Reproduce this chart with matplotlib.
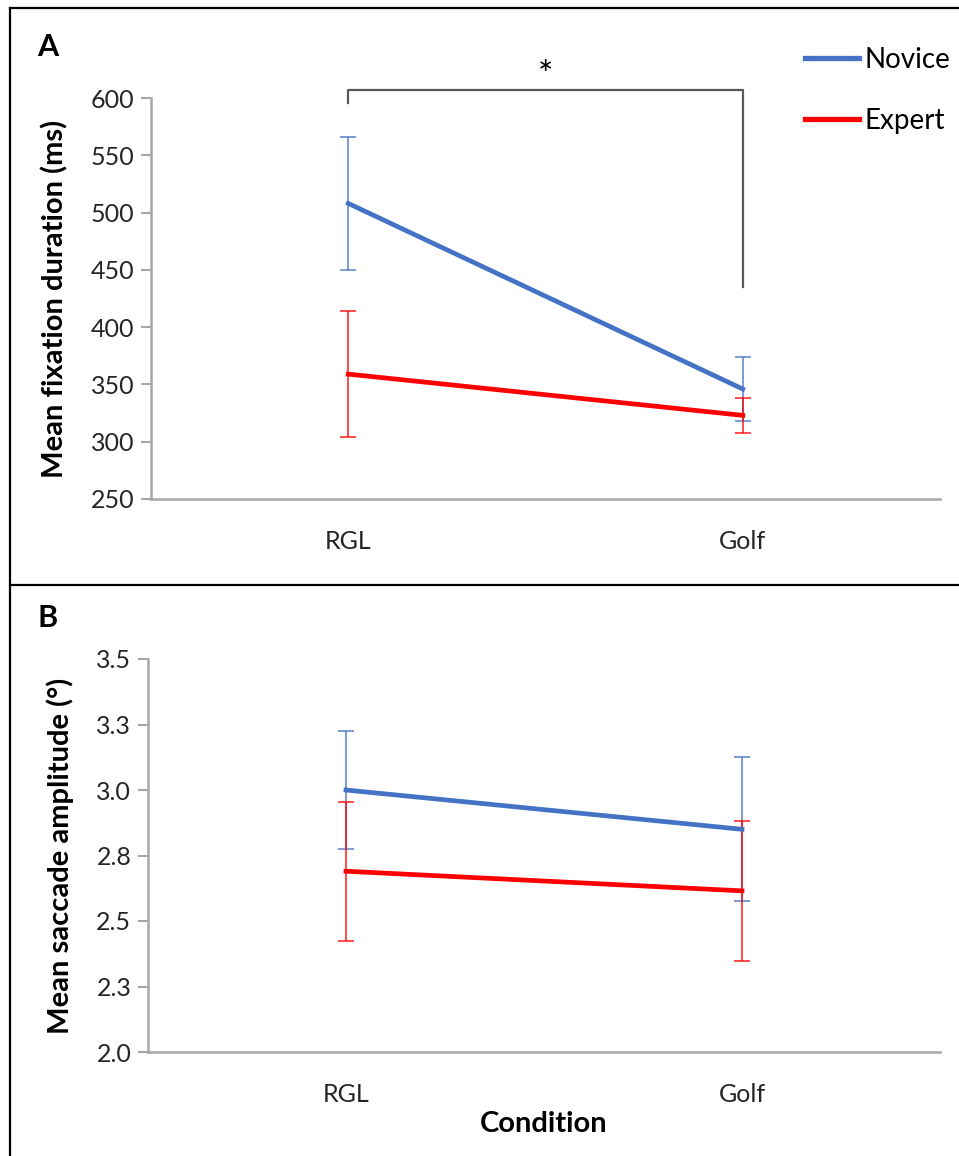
import matplotlib.pyplot as plt
from matplotlib.lines import Line2D
from matplotlib.colors import to_rgba

conditions = ['RGL', 'Golf']
groups = ['Novice', 'Expert']
colors = {'Novice': '#4472C4', 'Expert': '#FF0000'}

# panel A: mean fixation duration (ms)
fix_mean = {'Novice': [508, 346], 'Expert': [359, 323]}
fix_err = {'Novice': [58, 28], 'Expert': [55, 15]}

# panel B: mean saccade amplitude (deg)
sac_mean = {'Novice': [3.00, 2.85], 'Expert': [2.69, 2.615]}
sac_err = {'Novice': [0.225, 0.275], 'Expert': [0.265, 0.267]}

sac_ticks = [2.0, 2.25, 2.5, 2.75, 3.0, 3.25, 3.5]
sac_ticklabels = ['2.0', '2.3', '2.5', '2.8', '3.0', '3.3', '3.5']

W, H = 959, 1156
plt.rcParams['font.family'] = ['Lato', 'DejaVu Sans']
fig = plt.figure(figsize=(W / 100, H / 100), dpi=100)


def px_axes(left, top, right, bottom):
    return fig.add_axes([left / W, 1 - bottom / H, (right - left) / W, (bottom - top) / H])


def style(ax):
    for s in ['top', 'right']:
        ax.spines[s].set_visible(False)
    for s in ['left', 'bottom']:
        ax.spines[s].set_color('#A6A6A6')
        ax.spines[s].set_linewidth(1.8)
    ax.tick_params(axis='y', length=7, width=1.5, color='#A6A6A6', labelsize=18,
                   labelcolor='#262626', pad=5)
    ax.tick_params(axis='x', length=0, labelsize=18, labelcolor='#262626', pad=22)
    ax.set_xlim(0, 2)
    ax.set_xticks([0.5, 1.5])
    ax.set_xticklabels(conditions)


def draw(ax, means, errs):
    x = [0.5, 1.5]
    for g in groups:
        ax.errorbar(x, means[g], yerr=errs[g], color=colors[g], lw=3.4,
                    ecolor=to_rgba(colors[g], 0.7), elinewidth=1.4, capsize=6,
                    capthick=1.4, label=g, zorder=3)


axA = px_axes(151, 98, 940, 499)
style(axA)
draw(axA, fix_mean, fix_err)
axA.set_ylim(250, 600)
axA.set_yticks(range(250, 601, 50))
axA.set_ylabel('Mean fixation duration (ms)', fontsize=21, fontweight='bold', labelpad=16)

# significance bracket
axA.plot([0.5, 0.5, 1.5, 1.5], [596, 607, 607, 435], color='#595959', lw=1.6,
         clip_on=False, zorder=2)
axA.text(1.0, 619, '*', ha='center', va='center', fontsize=26, color='black',
         clip_on=False)

axB = px_axes(148, 659, 940, 1052)
style(axB)
draw(axB, sac_mean, sac_err)
axB.set_ylim(2.0, 3.5)
axB.set_yticks(sac_ticks)
axB.set_yticklabels(sac_ticklabels)
axB.set_ylabel('Mean saccade amplitude (°)', fontsize=21, fontweight='bold', labelpad=16)
axB.set_xlabel('Condition', fontsize=21, fontweight='bold', labelpad=4)

handles = [Line2D([], [], color=colors[g], lw=3.8) for g in groups]
fig.legend(handles, groups, loc='upper left', bbox_to_anchor=(805 / W, 1 - 47 / H),
           frameon=False, fontsize=20, handlelength=1.95, handletextpad=0.2,
           labelspacing=1.25, borderaxespad=0, borderpad=0)

# panel labels
fig.text(37 / W, 1 - 47 / H, 'A', fontsize=22, fontweight='bold', va='center')
fig.text(37 / W, 1 - 618 / H, 'B', fontsize=22, fontweight='bold', va='center')

# panel frames
for seg in [((10, 8), (W, 8)), ((10, 8), (10, H)), ((10, 585), (W, 585))]:
    (x0, y0), (x1, y1) = seg
    fig.add_artist(Line2D([x0 / W, x1 / W], [1 - y0 / H, 1 - y1 / H],
                          color='black', lw=1.6))

fig.savefig('out.png', dpi=100)
